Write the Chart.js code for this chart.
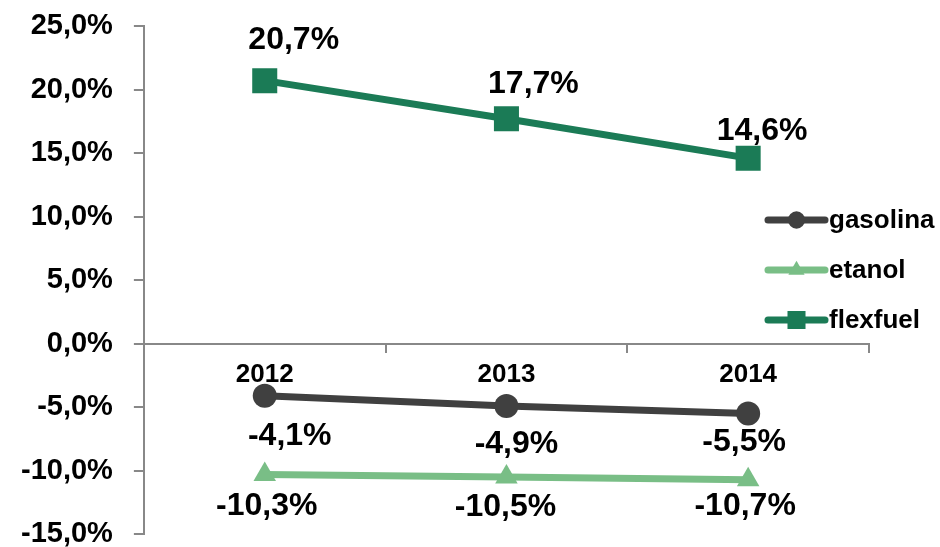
<!DOCTYPE html>
<html><head><meta charset="utf-8">
<script src="https://cdn.jsdelivr.net/npm/chart.js@4/dist/chart.umd.min.js"></script>
<style>html,body{margin:0;padding:0;background:#fff;overflow:hidden}#wrap{width:940px;height:547px;overflow:hidden}</style>
</head><body><div id="wrap"><canvas id="c" width="940" height="552"></canvas></div>
<script>
const categories = ['2012', '2013', '2014'];
const gasolina = [-4.1, -4.9, -5.5];
const etanol = [-10.3, -10.5, -10.7];
const flexfuel = [20.7, 17.7, 14.6];
const seriesNames = ['gasolina', 'etanol', 'flexfuel'];
const yTicks = [-15, -10, -5, 0, 5, 10, 15, 20, 25];

const FONT = "'Liberation Sans', Arial, sans-serif";
const fmt = v => v.toFixed(1).replace('.', ',') + '%';

const labelOffsets = [
  {dx: [25, 10, -4], dy: [40, 38, 29]},
  {dx: [2, -1, -3], dy: [32, 30, 27]},
  {dx: [29, 27, 14], dy: [-40, -35, -27]}
];

const dataLabelPlugin = {
  id: 'dataLabels',
  afterDatasetsDraw(chart) {
    const ctx = chart.ctx;
    ctx.save();
    ctx.font = 'bold 32px ' + FONT;
    ctx.fillStyle = '#000';
    ctx.textAlign = 'center';
    ctx.textBaseline = 'middle';
    chart.data.datasets.forEach((ds, i) => {
      const meta = chart.getDatasetMeta(i);
      meta.data.forEach((pt, j) => {
        const o = labelOffsets[i];
        ctx.fillText(fmt(ds.data[j]), pt.x + o.dx[j], pt.y + o.dy[j]);
      });
    });
    ctx.restore();
  }
};

const legendPlugin = {
  id: 'customLegend',
  afterDraw(chart) {
    const ctx = chart.ctx;
    ctx.save();
    const x0 = 768, x1 = 825, tx = 829;
    const ys = [220, 270, 320];
    chart.data.datasets.forEach((ds, i) => {
      const y = ys[i];
      ctx.strokeStyle = ds.borderColor;
      ctx.lineWidth = 7;
      ctx.lineCap = 'round';
      ctx.beginPath(); ctx.moveTo(x0, y); ctx.lineTo(x1, y); ctx.stroke();
      ctx.fillStyle = ds.borderColor;
      ctx.strokeStyle = ds.borderColor;
      Chart.helpers.drawPoint(ctx, {pointStyle: ds.pointStyle, radius: ds.pointRadius * 0.72, borderWidth: 0, rotation: 0}, (x0 + x1) / 2, y);
      ctx.fillStyle = '#000';
      ctx.font = 'bold 26px ' + FONT;
      ctx.textAlign = 'left';
      ctx.textBaseline = 'middle';
      ctx.fillText(seriesNames[i], tx, y + 1);
    });
    ctx.restore();
  }
};

const colors = ['#404040', '#79BE86', '#1B7B56'];
const styles = ['circle', 'triangle', 'rect'];
const radii = [12, 13, 17.7];
const values = [gasolina, etanol, flexfuel];

new Chart(document.getElementById('c'), {
  type: 'line',
  data: {
    labels: categories,
    datasets: seriesNames.map((n, i) => ({
      label: n,
      data: values[i],
      borderColor: colors[i],
      backgroundColor: colors[i],
      pointBackgroundColor: colors[i],
      pointBorderColor: colors[i],
      borderWidth: 7,
      pointStyle: styles[i],
      pointRadius: radii[i],
      pointHoverRadius: radii[i],
      pointBorderWidth: 0,
      tension: 0
    }))
  },
  options: {
    responsive: false,
    animation: false,
    devicePixelRatio: 1,
    layout: {padding: {top: 0, right: 71, left: 0, bottom: 0}},
    plugins: {legend: {display: false}, tooltip: {enabled: false}},
    scales: {
      x: {
        type: 'category',
        position: {y: 0},
        offset: true,
        grid: {display: true, drawOnChartArea: false, drawTicks: true, tickLength: 8, offset: true, color: '#888', lineWidth: 2},
        border: {display: true, color: '#888', width: 2},
        ticks: {color: '#000', font: {family: FONT, size: 26, weight: 'bold'}, padding: 8}
      },
      y: {
        min: -15, max: 25,
        afterBuildTicks: axis => { axis.ticks = yTicks.map(v => ({value: v})); },
        afterFit: s => { s.paddingTop = 26; s.paddingBottom = 9; },
        grid: {display: true, drawOnChartArea: false, drawTicks: true, tickLength: 10, color: '#888', lineWidth: 2},
        border: {display: true, color: '#888', width: 2},
        ticks: {color: '#000', font: {family: FONT, size: 29, weight: 'bold'}, padding: 21, callback: v => fmt(v)}
      }
    }
  },
  plugins: [dataLabelPlugin, legendPlugin]
});
</script></body></html>
